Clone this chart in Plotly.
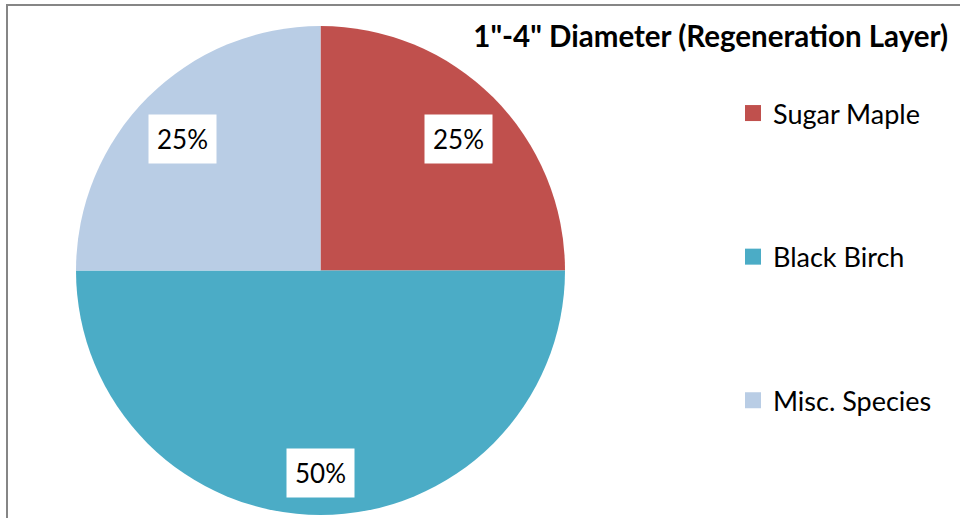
import math
import plotly.graph_objects as go

# ---- data ----
species = ["Sugar Maple", "Black Birch", "Misc. Species"]
shares = [25, 50, 25]
colors = ["#C0504D", "#4BACC6", "#B9CDE5"]
title_text = '1"-4" Diameter (Regeneration Layer)'

W, H = 960, 518
FONT = "Lato"

# pie placement (pixels)
cx, cy, r = 320.5, 270.5, 244.5

fig = go.Figure()
fig.add_trace(go.Pie(
    labels=species, values=shares, sort=False, direction="clockwise", rotation=0,
    marker=dict(colors=colors, line=dict(width=0)),
    textinfo="none", hoverinfo="label+percent", showlegend=False,
    domain=dict(x=[(cx - r) / W, (cx + r) / W], y=[1 - (cy + r) / H, 1 - (cy - r) / H]),
))

# legend via empty marker traces (one group each to allow spacing)
for name, col in zip(species, colors):
    fig.add_trace(go.Scatter(
        x=[None], y=[None], mode="markers", name=name, legendgroup=name,
        marker=dict(symbol="square", size=16, color=col),
    ))

# percent labels in white boxes, placed at slice mid-angles
total = sum(shares)
cum = 0
annotations = []
for v in shares:
    theta = 2 * math.pi * (cum + v / 2) / total
    cum += v
    f = 0.8
    px = cx + r * f * math.sin(theta)
    py = cy - r * f * math.cos(theta) + 7
    annotations.append(dict(
        x=px / W, y=1 - py / H, xref="paper", yref="paper",
        text=f"{round(100 * v / total)}%", showarrow=False,
        font=dict(family=FONT, size=26, color="black"),
        bgcolor="white", borderpad=8,
        xanchor="center", yanchor="middle",
    ))

fig.update_layout(
    width=W, height=H,
    margin=dict(l=0, r=0, t=0, b=0),
    paper_bgcolor="white", plot_bgcolor="white",
    xaxis=dict(visible=False), yaxis=dict(visible=False),
    title=dict(text=f"<b>{title_text}</b>", x=948 / W, xanchor="right",
               y=1 - 37 / H, yanchor="middle", xref="paper", yref="paper",
               font=dict(family=FONT, size=29.5, color="black")),
    legend=dict(x=733 / W, y=1 - 89 / H, xanchor="left", yanchor="top",
                font=dict(family=FONT, size=27, color="black"),
                tracegroupgap=105.5, traceorder="grouped", bgcolor="rgba(0,0,0,0)"),
    annotations=annotations,
    shapes=[dict(type="rect", xref="paper", yref="paper",
                 x0=7 / W, x1=1.2, y0=-0.2, y1=1 - 5 / H,
                 line=dict(color="#868686", width=2), fillcolor="rgba(0,0,0,0)")],
)

fig.write_html("out.html", config={"displayModeBar": False},
               post_script="document.body.style.margin='0';")
